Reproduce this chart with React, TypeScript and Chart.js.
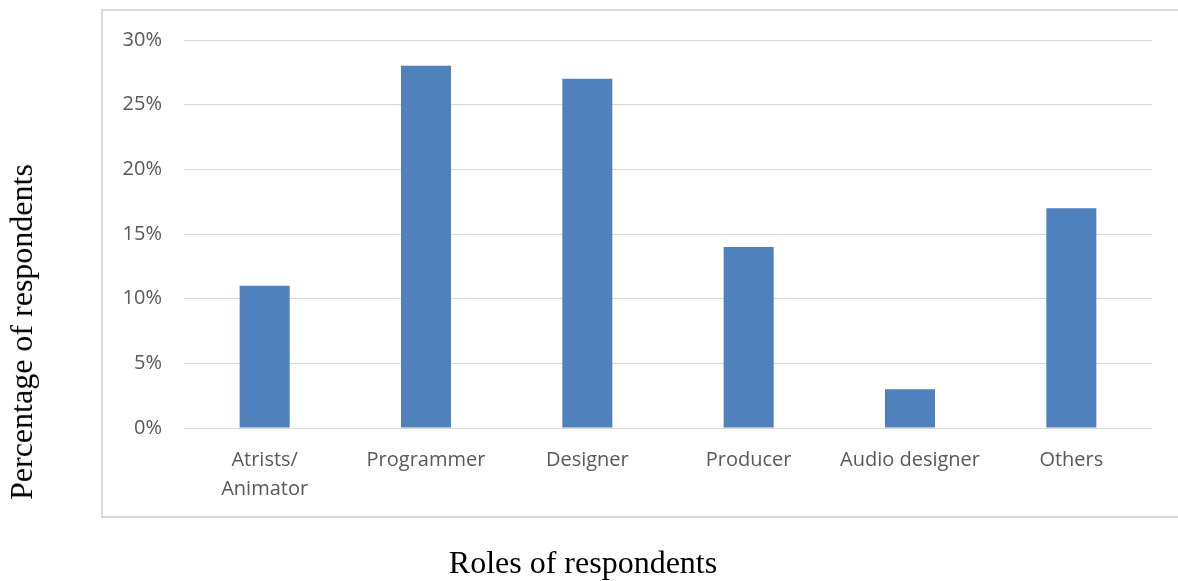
import React, { useEffect, useRef } from "react";
import { Chart, registerables } from "chart.js";

Chart.register(...registerables);

// Survey: share of respondents by role
const categories: (string | string[])[] = [
  ["Atrists/", "Animator"],
  "Programmer",
  "Designer",
  "Producer",
  "Audio designer",
  "Others",
];
const shares = [11, 28, 27, 14, 3, 17];
const yTickMax = 30;
const yTickStep = 5;

const xTitle = "Roles of respondents";
const yTitle = "Percentage of respondents";

const W = 1178;
const H = 581;

// Light frame around the plot, left open on the right where it runs off the page
const framePlugin = {
  id: "frame",
  beforeDraw(chart: any) {
    const { ctx, chartArea } = chart;
    const left = chartArea.left - 82;
    const top = chartArea.top - 30;
    const bottom = chartArea.bottom + 89;
    ctx.save();
    ctx.strokeStyle = "#d9d9d9";
    ctx.lineWidth = 2;
    ctx.beginPath();
    ctx.moveTo(chart.width + 5, top);
    ctx.lineTo(left, top);
    ctx.lineTo(left, bottom);
    ctx.lineTo(chart.width + 5, bottom);
    ctx.stroke();
    ctx.restore();
  },
};

export default function App() {
  const canvasRef = useRef<HTMLCanvasElement | null>(null);

  useEffect(() => {
    const canvas = canvasRef.current;
    if (!canvas) return;
    const chart = new Chart(canvas, {
      type: "bar",
      data: {
        labels: categories,
        datasets: [
          {
            data: shares,
            backgroundColor: "#4f81bd",
            borderWidth: 0,
            categoryPercentage: 1,
            barPercentage: 0.31,
          },
        ],
      },
      options: {
        responsive: false,
        animation: false,
        layout: { padding: { left: 0, top: 40, right: 26, bottom: 0 } },
        plugins: {
          legend: { display: false },
          tooltip: { enabled: false },
          title: { display: false },
        },
        scales: {
          x: {
            grid: { display: false, drawTicks: false },
            border: { display: false },
            ticks: {
              color: "#595959",
              padding: 18,
              maxRotation: 0,
              autoSkip: false,
              font: { family: "'Open Sans'", size: 20, lineHeight: 1.45 },
            },
            afterFit: (scale: any) => {
              scale.height = H - 428;
            },
          },
          y: {
            min: 0,
            max: yTickMax,
            grid: { color: "#d9d9d9", lineWidth: 1, drawTicks: false },
            border: { display: false },
            ticks: {
              stepSize: yTickStep,
              color: "#595959",
              padding: 22,
              font: { family: "'Open Sans'", size: 20 },
              callback: (v: any) => `${v}%`,
            },
            afterFit: (scale: any) => {
              scale.width = 184;
            },
          },
        },
      },
      plugins: [framePlugin],
    });
    return () => chart.destroy();
  }, []);

  return (
    <div
      style={{
        position: "fixed",
        left: 0,
        top: 0,
        width: W,
        height: H,
        overflow: "hidden",
        background: "#ffffff",
      }}
    >
      <canvas
        ref={canvasRef}
        width={W}
        height={H}
        style={{ position: "absolute", left: 0, top: 0 }}
      />
      <div
        style={{
          position: "absolute",
          left: 21,
          top: 332,
          transform: "translate(-50%, -50%) rotate(-90deg)",
          fontFamily: "'Liberation Serif', 'Times New Roman', serif",
          fontSize: 32,
          lineHeight: 1,
          whiteSpace: "nowrap",
          color: "#000",
        }}
      >
        {yTitle}
      </div>
      <div
        style={{
          position: "absolute",
          left: 583,
          top: 546,
          transform: "translateX(-50%)",
          fontFamily: "'Liberation Serif', 'Times New Roman', serif",
          fontSize: 32,
          lineHeight: 1,
          whiteSpace: "nowrap",
          color: "#000",
        }}
      >
        {xTitle}
      </div>
    </div>
  );
}
